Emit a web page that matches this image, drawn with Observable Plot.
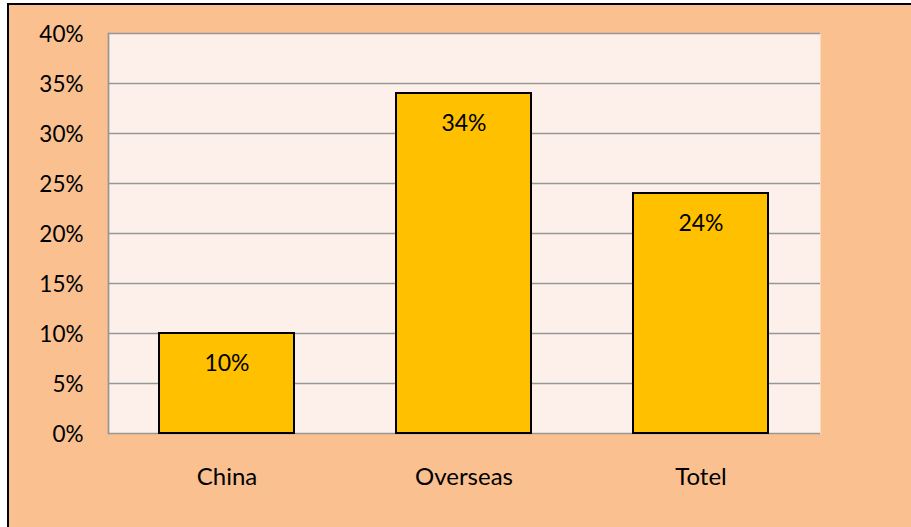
<!DOCTYPE html>
<html>
<head>
<meta charset="utf-8">
<script src="https://cdn.jsdelivr.net/npm/d3@7"></script>
<script src="https://cdn.jsdelivr.net/npm/@observablehq/plot@0.6"></script>
<style>
  html, body { margin: 0; padding: 0; background: #ffffff; }
  #wrap { position: relative; width: 911px; height: 527px; overflow: hidden; background: #ffffff; }
  #panel { position: absolute; left: 7px; top: 3px; width: 930px; height: 560px; background: #FAC090;
           border-left: 2px solid #000; border-top: 2px solid #000; }
  #chart { position: absolute; left: 0; top: 0; }
</style>
</head>
<body>
<div id="wrap"><div id="panel"></div><div id="chart"></div></div>
<script>
const categories = ["China", "Overseas", "Totel"];
const values = [0.10, 0.34, 0.24];
const labels = ["10%", "34%", "24%"];
const yTicks = [0, 0.05, 0.10, 0.15, 0.20, 0.25, 0.30, 0.35, 0.40];

const data = categories.map((c, i) => ({cat: c, value: values[i], label: labels[i]}));

const chart = Plot.plot({
  width: 911,
  height: 527,
  marginLeft: 108,
  marginRight: 91,
  marginTop: 33,
  marginBottom: 94,
  style: {background: "transparent", fontFamily: "Lato, 'Open Sans', sans-serif", fontSize: "22px", color: "#000"},
  x: {domain: categories, paddingInner: 0.43, paddingOuter: 0.215, label: null},
  y: {domain: [0, 0.4], label: null},
  marks: [
    Plot.frame({fill: "#FDEFEA", stroke: null}),
    Plot.ruleY(yTicks, {stroke: "#969696", strokeWidth: 1.7}),
    Plot.frame({anchor: "left", stroke: "#969696", strokeWidth: 1.7}),
    Plot.barY(data, {x: "cat", y: "value", fill: "#FFC000", stroke: "#000", strokeWidth: 2}),
    Plot.text(data, {x: "cat", y: "value", text: "label", dy: 30, fill: "#000", fontSize: 23}),
    Plot.axisY({ticks: yTicks, tickFormat: d3.format(".0%"), tickSize: 0, tickPadding: 25, fontSize: 22.5, dy: 1}),
    Plot.axisX({tickSize: 0, tickPadding: 34, fontSize: 24})
  ]
});
document.getElementById("chart").appendChild(chart);
</script>
</body>
</html>
